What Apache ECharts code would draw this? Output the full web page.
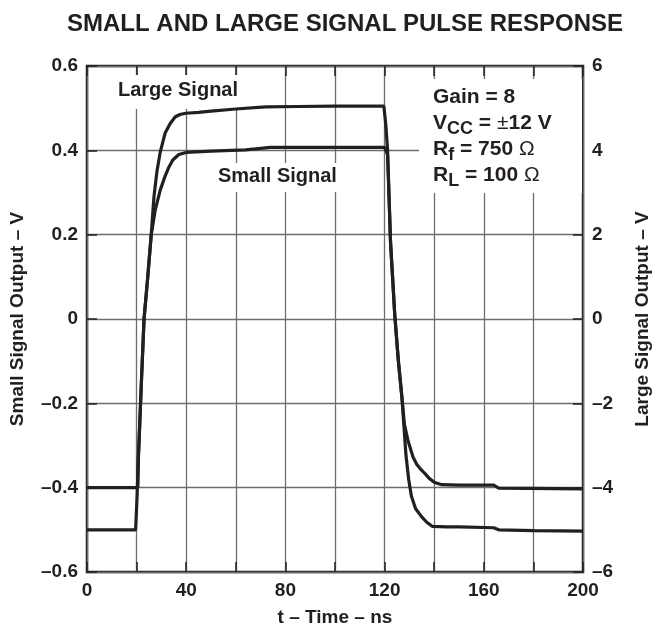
<!DOCTYPE html>
<html>
<head>
<meta charset="utf-8">
<script src="https://cdn.jsdelivr.net/npm/echarts@6/dist/echarts.min.js"></script>
<style>
  html, body { margin: 0; padding: 0; background: #fff; }
  #chart { width: 660px; height: 635px; }
</style>
</head>
<body>
<div id="chart"></div>
<script>
// time axis (ns) and the two traces
const largeTime = [0, 19.6, 20.2, 20.7, 22, 23, 24.5, 25.9, 27, 28.2, 29.5, 31.5, 33.5, 35.5, 37.5, 39.8, 45, 50, 60, 72, 85, 100, 110, 119.7,
  120.5, 121.2, 122.4, 124.1, 125.5, 127, 128.6, 129.7, 130.8, 132.5, 134.8, 137, 139.3, 145, 150, 164, 166, 180, 200];
const largeVolts = [-5.0, -5.0, -4.2, -3.3, -1.4, 0.0, 1.0, 2.0, 2.9, 3.5, 3.95, 4.41, 4.63, 4.79, 4.85, 4.88, 4.9, 4.93, 4.98, 5.03, 5.04, 5.05, 5.05, 5.05,
  4.6, 4.0, 1.8, 0.1, -0.95, -1.87, -3.22, -3.8, -4.2, -4.5, -4.68, -4.82, -4.92, -4.93, -4.93, -4.95, -5.0, -5.02, -5.03];

const smallTime = [0, 20.5, 20.7, 22, 23, 24.5, 25.9, 27.5, 29.5, 31.5, 33, 34.6, 37, 40, 50, 64, 74, 90, 105, 120,
  121.2, 122.4, 124.1, 125.5, 127, 128, 129.5, 131.5, 133, 134.5, 136.2, 138, 140, 143, 150, 164, 166, 200];
const smallVolts = [-0.4, -0.4, -0.335, -0.14, 0.0, 0.1, 0.2, 0.258, 0.305, 0.339, 0.36, 0.377, 0.39, 0.395, 0.398, 0.401, 0.407, 0.407, 0.407, 0.407,
  0.39, 0.183, 0.01, -0.097, -0.187, -0.25, -0.29, -0.328, -0.345, -0.356, -0.366, -0.378, -0.387, -0.393, -0.394, -0.394, -0.401, -0.403];

const timeTicks = [0, 40, 80, 120, 160, 200];
const smallTicks = [-0.6, -0.4, -0.2, 0, 0.2, 0.4, 0.6];
const largeTicks = [-6, -4, -2, 0, 2, 4, 6];

const ink = '#231f20';
const font = 'Liberation Sans, Arial, sans-serif';

function zip(xs, ys) {
  return xs.map((x, i) => [x, ys[i]]);
}

// datasheet style: en dash for negatives
function dashNum(v, digits) {
  if (Math.abs(v) < 1e-9) return '0';
  const s = Math.abs(v).toFixed(digits);
  return v < 0 ? '\u2013' + s : s;
}

const chart = echarts.init(document.getElementById('chart'));

const tickStyle = { show: true, inside: true, length: 10, lineStyle: { color: ink, width: 1.5 } };
const gridLine = { show: true, lineStyle: { color: '#6d6d6d', width: 1.3 } };
const labelFont = { color: ink, fontFamily: font, fontWeight: 'bold', fontSize: 19 };

chart.setOption({
  animation: false,
  backgroundColor: '#fff',
  title: {
    text: 'SMALL AND LARGE SIGNAL PULSE RESPONSE',
    left: 62,
    top: 7,
    textStyle: { color: ink, fontFamily: font, fontWeight: 'bold', fontSize: 24 }
  },
  grid: {
    left: 85, right: 68, top: 66, bottom: 63,
    show: true, borderColor: ink, borderWidth: 2.5, backgroundColor: 'transparent'
  },
  xAxis: [{
    type: 'value',
    min: 0, max: 200, interval: 20,
    position: 'bottom',
    name: 't \u2013 Time \u2013 ns',
    nameLocation: 'middle',
    nameGap: 36,
    nameTextStyle: labelFont,
    axisLine: { show: false, onZero: false },
    axisTick: tickStyle,
    splitLine: gridLine,
    axisLabel: Object.assign({
      margin: 9,
      formatter: v => timeTicks.includes(v) ? String(v) : ''
    }, labelFont)
  }, {
    type: 'value',
    min: 0, max: 200, interval: 20,
    position: 'top',
    axisLine: { show: false, onZero: false },
    axisTick: tickStyle,
    splitLine: { show: false },
    axisLabel: { show: false }
  }],
  yAxis: [{
    type: 'value',
    min: -0.6, max: 0.6, interval: 0.2,
    position: 'left',
    name: 'Small Signal Output \u2013 V',
    nameLocation: 'middle',
    nameRotate: 90,
    nameGap: 60,
    nameTextStyle: labelFont,
    axisLine: { show: false, onZero: false },
    axisTick: tickStyle,
    splitLine: gridLine,
    axisLabel: Object.assign({
      margin: 9,
      formatter: v => smallTicks.some(t => Math.abs(t - v) < 1e-6) ? dashNum(v, 1) : ''
    }, labelFont)
  }, {
    type: 'value',
    min: -6, max: 6, interval: 2,
    position: 'right',
    name: 'Large Signal Output \u2013 V',
    nameLocation: 'middle',
    nameRotate: 90,
    nameGap: 50,
    nameTextStyle: labelFont,
    axisLine: { show: false, onZero: false },
    axisTick: tickStyle,
    splitLine: { show: false },
    axisLabel: Object.assign({
      margin: 9,
      formatter: v => largeTicks.includes(v) ? dashNum(v, 0) : ''
    }, labelFont)
  }],
  graphic: [
    // white patches behind the labels, like the original where grid lines stop
    { type: 'rect', z: 1, shape: { x: 112, y: 75, width: 140, height: 34 }, style: { fill: '#fff' } },
    { type: 'rect', z: 1, shape: { x: 207, y: 163, width: 146, height: 29 }, style: { fill: '#fff' } },
    { type: 'rect', z: 1, shape: { x: 419, y: 79, width: 163, height: 114 }, style: { fill: '#fff' } },
    {
      type: 'text', z: 2, left: 118, top: 80,
      style: { text: 'Large Signal', fill: ink, font: 'bold 20px ' + font }
    },
    {
      type: 'text', z: 2, left: 218, top: 166,
      style: { text: 'Small Signal', fill: ink, font: 'bold 20px ' + font }
    },
    {
      type: 'text', z: 2, left: 433, top: 84,
      style: {
        text: 'Gain = 8\nV{sub|CC} = {sym|\u00b1}12 V\nR{sub|f} = 750 {sym|\u03a9}\nR{sub|L} = 100 {sym|\u03a9}',
        fill: ink,
        font: 'bold 21px ' + font,
        lineHeight: 26,
        rich: {
          sub: { fontSize: 18, fontWeight: 'bold', fontFamily: font, fill: ink, padding: [12, 0, 0, 0] },
          sym: { fontSize: 21, fontWeight: 'normal', fontFamily: font, fill: ink }
        }
      }
    }
  ],
  series: [{
    name: 'Small Signal',
    type: 'line',
    xAxisIndex: 0,
    yAxisIndex: 0,
    data: zip(smallTime, smallVolts),
    showSymbol: false,
    z: 5,
    lineStyle: { color: ink, width: 3.2 }
  }, {
    name: 'Large Signal',
    type: 'line',
    xAxisIndex: 0,
    yAxisIndex: 1,
    data: zip(largeTime, largeVolts),
    showSymbol: false,
    z: 5,
    lineStyle: { color: ink, width: 3.2 }
  }]
});
</script>
</body>
</html>
